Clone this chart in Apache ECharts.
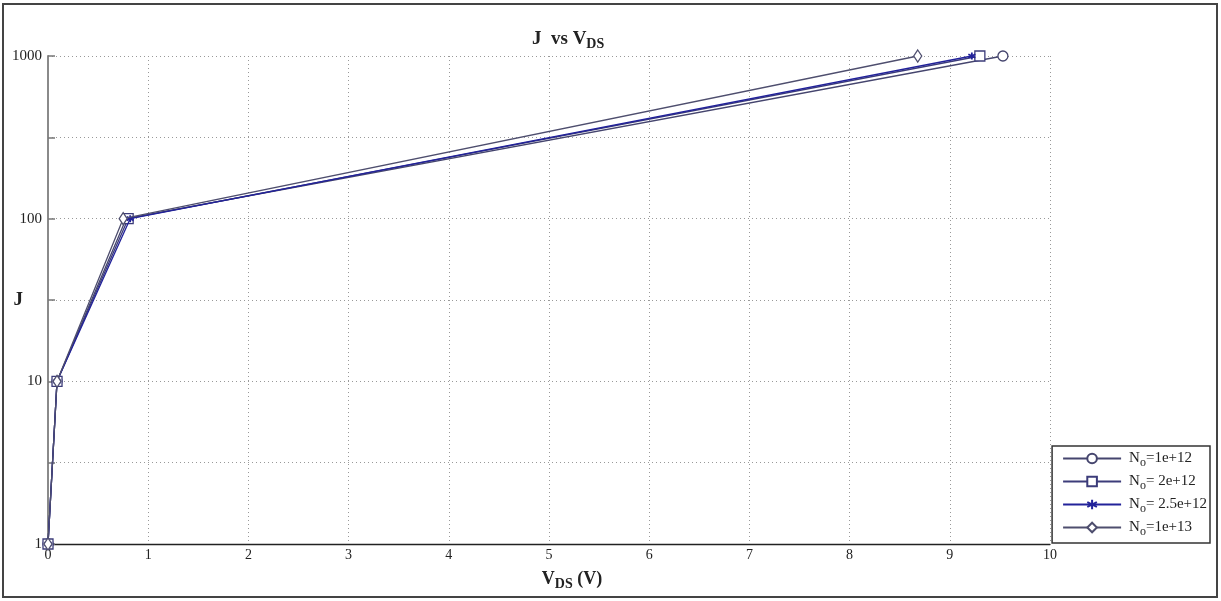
<!DOCTYPE html>
<html><head><meta charset="utf-8">
<script src="https://cdn.jsdelivr.net/npm/echarts@6/dist/echarts.min.js"></script>
<style>html,body{margin:0;padding:0;background:#fff}#c{width:1221px;height:601px}</style>
</head><body><div id="c"></div>
<script>
// Data (J values are plotted on a log10 scale)
const seriesNames = ['N_o=1e+12', 'N_o= 2e+12', 'N_o= 2.5e+12', 'N_o=1e+13'];
const jValues = [1, 10, 100, 1000];
const vdsN1e12 = [0, 0.09, 0.78, 9.53];
const vdsN2e12 = [0, 0.09, 0.80, 9.30];
const vdsN25e12 = [0, 0.09, 0.82, 9.22];
const vdsN1e13 = [0, 0.09, 0.75, 8.68];
const xTicks = [0,1,2,3,4,5,6,7,8,9,10];
const yTickLabels = ['1', '10', '100', '1000'];

const serif = 'Liberation Serif';
const starPath = 'path://M5,0 L5,10 M0.7,2.5 L9.3,7.5 M0.7,7.5 L9.3,2.5';
const symbols = ['circle', 'rect', starPath, 'diamond'];
const sizes = [10, 10, 7, [8, 12]];
const colors = ['#45456e', '#3c3c7a', '#22229a', '#4e4e6e'];
const xsets = [vdsN1e12, vdsN2e12, vdsN25e12, vdsN1e13];

const series = xsets.map((xs, i) => ({
  name: seriesNames[i],
  type: 'line',
  data: xs.map((x, k) => [x, Math.log10(jValues[k])]),
  symbol: symbols[i],
  symbolSize: sizes[i],
  showAllSymbol: true,
  lineStyle: { color: colors[i], width: 1.3 },
  itemStyle: { color: i === 2 ? colors[i] : '#fff', borderColor: colors[i], borderWidth: i === 2 ? 1.8 : 1.3 },
  z: 2 + i
}));

const chart = echarts.init(document.getElementById('c'), null, { renderer: 'canvas' });
chart.setOption({
  animation: false,
  backgroundColor: '#fff',
  textStyle: { fontFamily: serif },
  title: {
    text: '{a|J  vs V}{s|DS}',
    left: 527, top: 22,
    textStyle: {
      rich: {
        a: { fontFamily: serif, fontWeight: 'bold', fontSize: 19, color: '#222' },
        s: { fontFamily: serif, fontWeight: 'bold', fontSize: 14, color: '#222', padding: [10, 0, 0, 0] }
      }
    }
  },
  grid: { left: 48, right: 171, top: 56, bottom: 57, containLabel: false, outerBoundsMode: 'none' },
  legend: {
    orient: 'vertical',
    right: 11, bottom: 58,
    padding: [5, 3, 5, 10],
    itemGap: 5,
    itemWidth: 58, itemHeight: 12,
    borderColor: '#333', borderWidth: 1.5,
    backgroundColor: '#fff',
    formatter: n => {
      const parts = n.split('=');
      return '{p|}{n|N}{o|o}{n|=' + parts[1] + '}';
    },
    textStyle: {
      rich: {
        p: { width: 3 },
        n: { fontFamily: serif, fontSize: 15, color: '#222' },
        o: { fontFamily: serif, fontSize: 12, color: '#222', padding: [9, 0, 0, 0] }
      }
    },
    data: seriesNames
  },
  xAxis: {
    type: 'value', min: 0, max: 10, interval: 1,
    name: '{a|V}{s|DS}{a| (V)}',
    nameLocation: 'middle', nameGap: 24, nameMoveOverlap: false,
    nameTextStyle: {
      padding: [0, 0, 0, 46],
      rich: {
        a: { fontFamily: serif, fontWeight: 'bold', fontSize: 18, color: '#222' },
        s: { fontFamily: serif, fontWeight: 'bold', fontSize: 14, color: '#222', padding: [9, 0, 0, 0] }
      }
    },
    axisLine: { onZero: false, lineStyle: { color: '#222', width: 1.3 } },
    axisTick: { show: false },
    axisLabel: { fontFamily: serif, fontSize: 14, color: '#222', margin: 4,
      formatter: v => xTicks.includes(v) ? String(v) : '' },
    splitLine: { show: true, lineStyle: { color: '#999', type: [1, 3], width: 1 } }
  },
  yAxis: {
    type: 'value', min: 0, max: 3, interval: 0.5,
    name: 'J', nameLocation: 'middle', nameGap: 25, nameRotate: 0, nameMoveOverlap: false,
    nameTextStyle: { fontFamily: serif, fontWeight: 'bold', fontSize: 19, color: '#222' },
    axisLine: { show: true, lineStyle: { color: '#8a8a8a', width: 2 } },
    axisTick: { show: true, inside: true, length: 7, lineStyle: { color: '#777', width: 1.5 } },
    axisLabel: { fontFamily: serif, fontSize: 15, color: '#222', margin: 6,
      formatter: v => (v % 1 === 0) ? yTickLabels[v] : '' },
    splitLine: { show: true, lineStyle: { color: '#999', type: [1, 3], width: 1 } }
  },
  graphic: [{
    type: 'rect', shape: { x: 3, y: 4, width: 1214, height: 593 },
    style: { fill: null, stroke: '#444', lineWidth: 2 }, z: 0, silent: true
  }],
  series
});
</script></body></html>
